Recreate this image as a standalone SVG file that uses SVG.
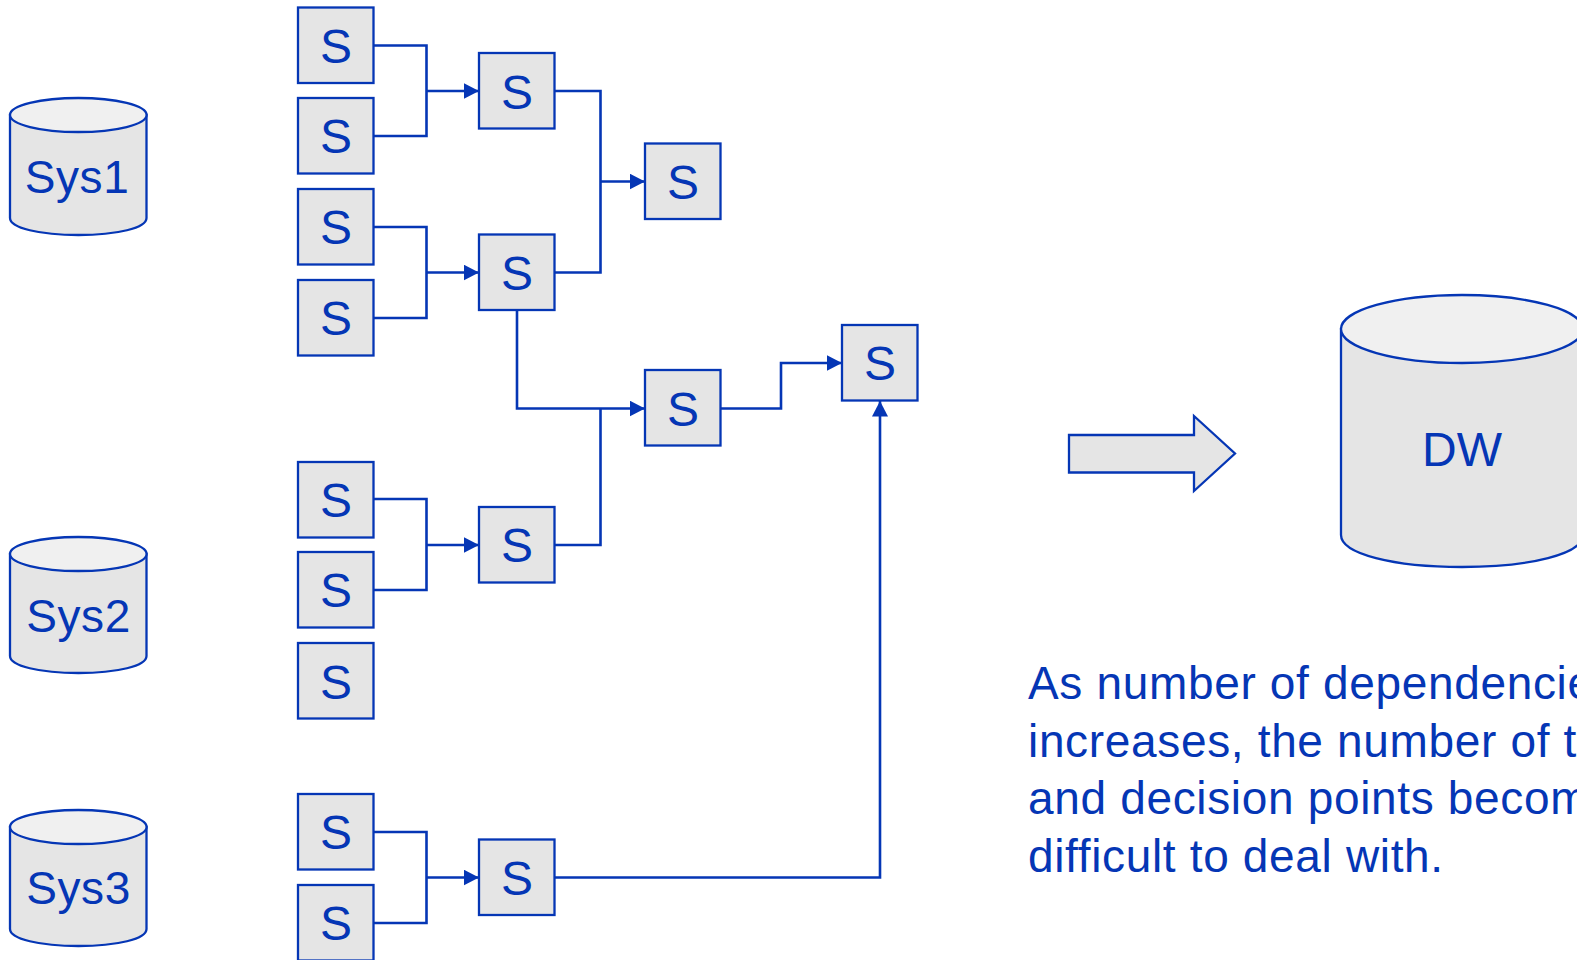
<svg xmlns="http://www.w3.org/2000/svg" width="1577" height="960" viewBox="0 0 1577 960">
<style>
.b{fill:#e5e5e5;stroke:#0536b5;stroke-width:2.300}
.t{fill:#f0f0f0;stroke:#0536b5;stroke-width:2.300}
.c{fill:none;stroke:#0536b5;stroke-width:2.600}
text{font-family:"Liberation Sans",Arial,sans-serif;fill:#0536b5;text-anchor:middle}
.s{font-size:48px}
.y{font-size:46px;letter-spacing:.6px}
.p{font-size:46px;letter-spacing:.66px;text-anchor:start}
</style>
<defs><marker id="a" markerUnits="userSpaceOnUse" markerWidth="16" markerHeight="16" refX="15.500" refY="8" orient="auto"><path d="M0 0L15.500 8L0 16Z" fill="#0536b5"/></marker></defs>
<rect width="1577" height="960" fill="#fff"/>
<g id="connectors">
<path class="c" d="M374 45.500H426.500V136H374M426.500 91H479" marker-end="url(#a)"/>
<path class="c" d="M374 227H426.500V318H374M426.500 272.500H479" marker-end="url(#a)"/>
<path class="c" d="M374 499H426.500V590H374M426.500 545H479" marker-end="url(#a)"/>
<path class="c" d="M374 832H426.500V923H374M426.500 877.500H479" marker-end="url(#a)"/>
<path class="c" d="M555 91H600.500V272.500H555M600.500 181.500H645" marker-end="url(#a)"/>
<path class="c" d="M517 310V408.500H645" marker-end="url(#a)"/>
<path class="c" d="M555 545H600.500V408.500"/>
<path class="c" d="M721 408.500H781V363H842" marker-end="url(#a)"/>
<path class="c" d="M555 877.500H880V401" marker-end="url(#a)"/>
</g>
<g id="sys1"><path class="b" d="M10 115V218C10 228 40 235 78.500 235S146.500 228 146.500 218V115Z"/><ellipse class="t" cx="78.300" cy="115" rx="68.300" ry="17"/><text class="y" x="77" y="193">Sys1</text></g>
<g id="sys2"><path class="b" d="M10 554V656C10 666 40 673 78.500 673S146.500 666 146.500 656V554Z"/><ellipse class="t" cx="78.300" cy="554" rx="68.300" ry="17"/><text class="y" x="78.500" y="632">Sys2</text></g>
<g id="sys3"><path class="b" d="M10 827V929C10 939 40 946 78.500 946S146.500 939 146.500 929V827Z"/><ellipse class="t" cx="78.300" cy="827" rx="68.300" ry="17"/><text class="y" x="78.500" y="904">Sys3</text></g>
<g id="s1"><rect class="b" x="298" y="7.500" width="75.500" height="75.500"/><text class="s" x="336" y="63">S</text></g>
<g id="s2"><rect class="b" x="298" y="98" width="75.500" height="75.500"/><text class="s" x="336" y="153">S</text></g>
<g id="s3"><rect class="b" x="298" y="189" width="75.500" height="75.500"/><text class="s" x="336" y="244">S</text></g>
<g id="s4"><rect class="b" x="298" y="280" width="75.500" height="75.500"/><text class="s" x="336" y="335">S</text></g>
<g id="s5"><rect class="b" x="298" y="462" width="75.500" height="75.500"/><text class="s" x="336" y="517">S</text></g>
<g id="s6"><rect class="b" x="298" y="552" width="75.500" height="75.500"/><text class="s" x="336" y="607">S</text></g>
<g id="s7"><rect class="b" x="298" y="643" width="75.500" height="75.500"/><text class="s" x="336" y="699">S</text></g>
<g id="s8"><rect class="b" x="298" y="794" width="75.500" height="75.500"/><text class="s" x="336" y="849">S</text></g>
<g id="s9"><rect class="b" x="298" y="885" width="75.500" height="75.500"/><text class="s" x="336" y="940">S</text></g>
<g id="m1"><rect class="b" x="479" y="53" width="75.500" height="75.500"/><text class="s" x="517" y="109">S</text></g>
<g id="m2"><rect class="b" x="479" y="234.500" width="75.500" height="75.500"/><text class="s" x="517" y="290">S</text></g>
<g id="m3"><rect class="b" x="479" y="507" width="75.500" height="75.500"/><text class="s" x="517" y="562">S</text></g>
<g id="m4"><rect class="b" x="479" y="839.500" width="75.500" height="75.500"/><text class="s" x="517" y="895">S</text></g>
<g id="r1"><rect class="b" x="645" y="143.500" width="75.500" height="75.500"/><text class="s" x="683" y="199">S</text></g>
<g id="r2"><rect class="b" x="645" y="370" width="75.500" height="75.500"/><text class="s" x="683" y="426">S</text></g>
<g id="f"><rect class="b" x="842" y="325" width="75.500" height="75.500"/><text class="s" x="880" y="380">S</text></g>
<g id="arrow"><path class="b" d="M1069 435H1194V416L1235 453.500L1194 491V472.500H1069Z"/></g>
<g id="dw"><path class="b" d="M1341 329V535C1341 554 1394 567 1462 567S1583 554 1583 535V329Z"/><ellipse class="t" cx="1462" cy="329" rx="121" ry="34"/><text class="s" x="1462" y="466">DW</text></g>
<g id="note"><text class="p" x="1028" y="699">As number of dependencie</text><text class="p" x="1028" y="757">increases, the number of t</text><text class="p" x="1028" y="814">and decision points becom</text><text class="p" x="1028" y="872">difficult to deal with.</text></g>
</svg>
